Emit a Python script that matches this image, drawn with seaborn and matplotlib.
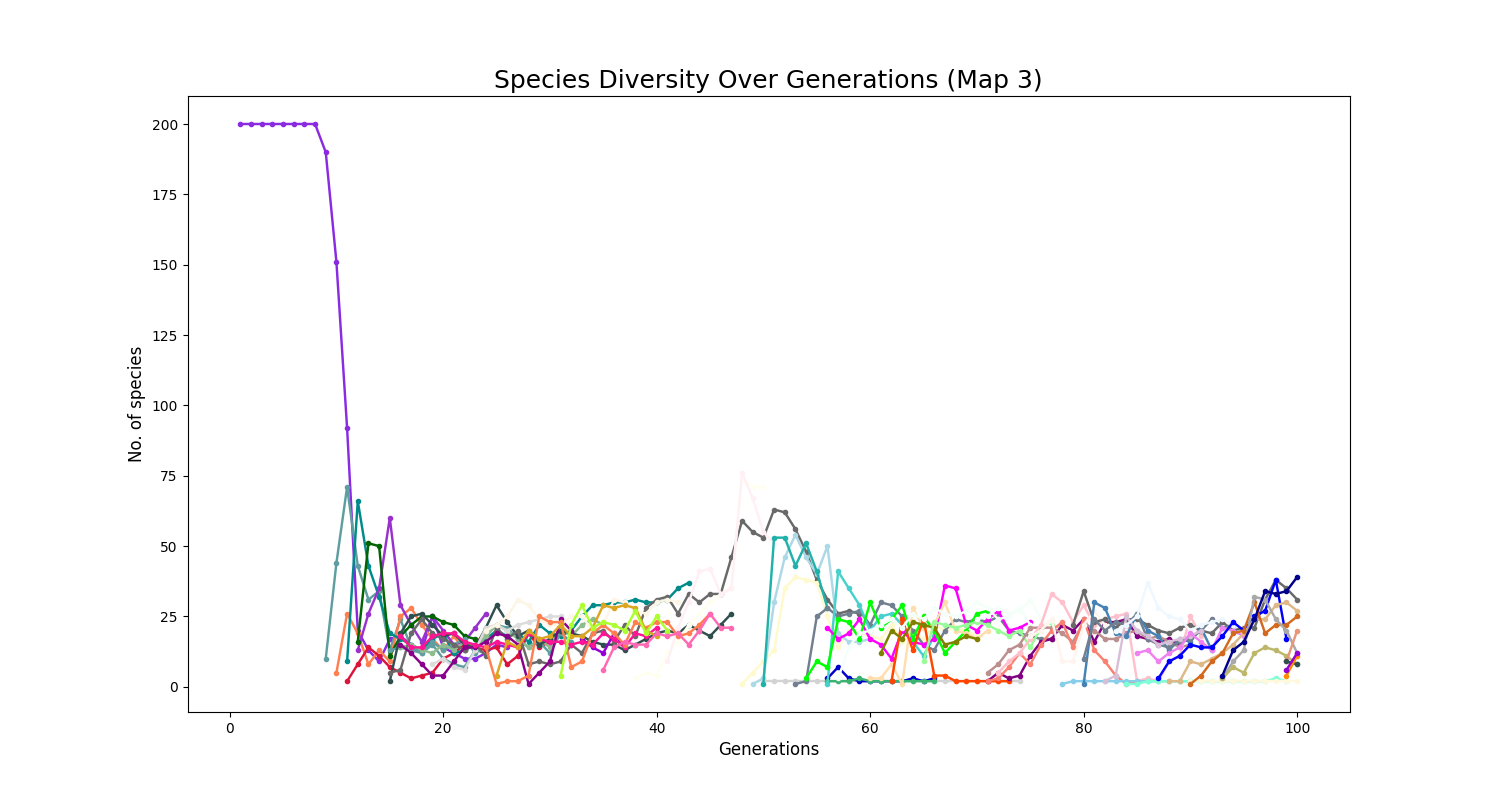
import matplotlib
matplotlib.use("Agg")
import matplotlib.pyplot as plt
import seaborn as sns
import pandas as pd

# (first generation, species counts per generation)
oldlace_a = (24, [20, 22, 25, 31, 29, 24, 22, 22, 25, 25, 20, 22, 31, 30, 27, 26, 30, 31, 30])
ivory_a = (38, [3, 5, 4, 12, 16, 22, 26, 30, 33, 35, 74, 71, 71])
lavenderblush_a = (41, [9, 21, 30, 41, 42, 33, 35, 76, 67, 55, 51])
mintcream_a = (57, [3, 14, 19, 20, 22, 24, 21, 26, 24, 28, 26, 25, 27, 30, 28, 24, 25, 28, 22])
honeydew_a = (70, [24, 25, 28, 26, 27, 31, 24, 21, 20])
seashell_a = (75, [18, 20, 24, 9, 9, 22, 27, 22, 20])
aliceblue_a = (83, [20, 22, 25, 37, 28, 25, 24, 20, 22, 23, 24, 22])

blueviolet = (1, [200, 200, 200, 200, 200, 200, 200, 200, 190, 151, 92, 20, 13, 9, 17, 18, 15, 13, 25, 14, 12, 10, 10, 12, 15, 14])
cadetblue = (9, [10, 44, 71, 43, 31, 34, 13, 24, 14, 12, 15, 10, 8, 7, 13, 12])
coral_a = (10, [5, 26, 19, 8, 13, 9, 25, 28, 22, 17, 13, 18, 13, 15, 20])
crimson = (11, [2, 8, 14, 11, 7, 5, 3, 4, 5, 10, 12, 15, 14, 13, 14, 8, 11, 19, 14, 16])
teal_a = (11, [9, 66, 43, 32, 19, 17, 15, 13, 17, 19, 12, 13, 15, 17, 20, 18, 19, 16, 22, 19, 18, 20, 25, 29, 29, 30, 30, 31, 30, 30, 31, 35, 37])
darkorchid = (12, [13, 26, 35, 60, 29, 22, 16, 25, 20, 15, 16, 21, 26])
darkgreen = (12, [16, 51, 50, 11, 18, 22, 25, 25, 23, 22, 18, 17])
seagreen_soft = (15, [13, 14, 13, 12, 16, 13, 15, 17, 12, 18, 22, 21, 17, 14, 16, 12, 19, 16])
darkseagreen = (16, [14, 15, 13, 12, 15, 13, 16, 14, 18, 22, 20, 17, 14, 17, 14, 21, 18, 22, 24, 22])
darkslategray_a = (15, [2, 19, 25, 26, 22, 18, 19, 15, 14, 21, 29, 23, 18, 20, 15, 17, 20, 19, 18, 16, 15, 15, 13, 15, 17, 19, 20, 19, 22, 20, 18, 22, 26])
dimgray_a = (15, [5, 6, 19, 24, 19, 17, 15, 13, 15, 11, 21, 17, 20, 8, 9, 8, 9, 15, 12, 19, 20, 16, 22, 18, 28, 31, 32, 26, 33, 30, 33, 33, 46, 59, 55, 53, 63, 62, 56, 48, 38, 31, 26, 27, 26])
gainsboro = (19, [8, 10, 7, 6, 13, 21, 22, 20, 22, 23, 24, 25, 25])
purple_a = (16, [15, 12, 8, 4, 4, 9, 14, 14, 16, 19, 18, 15, 1, 5, 9, 24, 20])
deeppink = (16, [18, 14, 14, 18, 19, 19, 16, 15, 14, 16, 15, 14, 19, 17, 16, 16, 15, 16, 15, 19, 17, 14, 19, 18, 21])
coral_b = (24, [14, 1, 2, 2, 4, 25, 23, 23, 7, 9, 19, 22, 19, 15, 23, 21, 23, 23, 18, 19, 22, 26])
goldenrod = (25, [4, 16, 14, 20, 17, 18, 22, 18, 18, 21, 29, 28, 29, 28, 20, 18])
greenyellow = (31, [4, 22, 29, 21, 23, 22, 20, 27, 19, 25, 20])
hotpink = (35, [6, 14, 16, 15, 15, 19, 18, 19, 15, 20, 26, 21, 21])
darkviolet_a = (33, [17, 14, 12, 19, 14])

lemonchiffon = (48, [1, 5, 9, 13, 35, 39, 38, 37, 25, 14, 20, 19, 18, 17, 22, 16, 19, 17, 22, 20, 21, 20, 18])
lightblue = (49, [1, 3, 30, 46, 54, 46, 40, 50, 19, 16, 16, 17])
lightgray = (50, [2, 2, 2, 2, 2, 2, 2, 2, 2, 2, 2, 2, 2, 2, 2, 2, 2, 2, 2, 2, 2, 2, 2, 2, 2])
lightseagreen = (50, [1, 53, 53, 43, 51, 41, 28])
slategray_a = (53, [1, 2, 25, 28, 25, 26, 27, 22, 30, 29, 25, 20, 15, 13, 20, 24, 23, 24, 23, 25, 20, 19, 18, 17, 17])
medblue = (56, [3, 7, 3, 2, 2, 2, 2, 2, 3, 2, 3])
mediumseagreen = (56, [2, 2, 2, 3, 2, 2, 2, 2, 2, 2, 2])
turquoise = (56, [1, 41, 35, 29, 20, 25, 26, 22, 16, 11, 18])
magenta = (56, [21, 17, 19, 24, 17, 15, 10, 20, 16, 15, 17, 36, 35, 22, 20, 24, 27, 20, 21, 23])
lime = (54, [3, 9, 7, 24, 23, 17, 30, 21, 24, 29, 17, 25, 20, 12, 16, 20, 26, 27])
navajowhite = (60, [3, 3, 8, 1, 28, 21, 22, 30, 20, 19, 17, 20])
orangered = (62, [2, 24, 13, 24, 4, 4, 2, 2, 2, 2, 2, 2])
olive = (61, [12, 20, 17, 23, 22, 21, 15, 16, 18, 17])
palegreen = (65, [9, 23, 22, 21, 22, 23, 22, 20, 18, 20, 14, 21, 22, 20])

purple_b = (71, [2, 5, 3, 4, 11, 16, 17, 22, 20, 24, 16, 23, 23, 24, 18, 17, 16, 17, 15])
rosybrown = (71, [5, 8, 13, 15, 21, 21, 21, 19, 16, 23, 20, 17, 17, 19, 20, 17, 18, 16, 14, 15])
salmon = (71, [2, 3, 7, 12, 8, 15, 20, 23, 14, 24, 13, 9, 4, 1, 2])
pink = (72, [5, 9, 12, 17, 22, 33, 30, 23, 29, 22, 24, 25, 26, 2, 3, 2, 9, 11, 25, 18])
skyblue = (78, [1, 2, 2, 2, 2, 2, 2, 2, 2, 2, 2, 2, 2])
dimgray_b = (79, [22, 34, 23, 24, 21, 24, 24, 22, 20, 19, 21, 22, 20, 19, 23, 20, 21, 21, 31, 38, 35, 31])
steelblue = (80, [1, 30, 28, 19, 18, 26, 20, 18, 13, 17, 16, 21, 13])
slategray_b = (80, [10, 24, 20, 23, 22, 26, 17, 15, 14, 16, 17, 20, 24, 21, 22])
thistle = (82, [2, 4, 25, 20, 18, 15, 16, 17, 18, 20])
aquamarine = (84, [1, 1, 2, 2, 2, 2, 2, 2, 2, 2, 2, 2, 2, 2, 3, 2])
cornsilk = (90, [2, 2, 2, 2, 2, 2, 2, 2, 2, 2, 2])
violet = (85, [12, 13, 9, 12, 14, 19, 16, 13, 21, 20, 18])
blue = (87, [3, 9, 11, 15, 14, 14, 18, 23, 20, 25, 27, 38, 17])
burlywood = (88, [2, 2, 9, 8, 10, 12, 15, 19, 24, 24, 29, 30, 27])
chocolate = (90, [1, 4, 9, 12, 19, 20, 30, 19, 22, 22, 25])
darkgray = (93, [3, 9, 13, 32, 31, 24, 20, 12])
darkkhaki = (93, [3, 7, 5, 12, 14, 13, 11, 8])
darkblue = (93, [4, 13, 16, 24, 34, 33, 34, 39])
darksalmon = (99, [9, 20])
darkslategray_b = (99, [9, 8])
orange = (99, [4, 11])
darkviolet_b = (99, [6, 12])

plot_order = [
    (blueviolet, "blueviolet"), (cadetblue, "cadetblue"), (coral_a, "coral"),
    (crimson, "crimson"), (teal_a, "darkcyan"), (darkorchid, "darkorchid"),
    (darkgreen, "darkgreen"), (seagreen_soft, "cadetblue"), (darkseagreen, "darkseagreen"),
    (darkslategray_a, "darkslategray"), (dimgray_a, "dimgray"), (gainsboro, "gainsboro"),
    (purple_a, "darkmagenta"), (darkviolet_a, "darkviolet"), (deeppink, "deeppink"),
    (oldlace_a, "oldlace"), (ivory_a, "ivory"), (lavenderblush_a, "lavenderblush"),
    (coral_b, "coral"), (goldenrod, "goldenrod"), (greenyellow, "greenyellow"),
    (hotpink, "hotpink"), (lemonchiffon, "lemonchiffon"), (lightblue, "lightblue"),
    (lightgray, "lightgray"), (lightseagreen, "lightseagreen"), (slategray_a, "slategray"),
    (medblue, "mediumblue"), (mediumseagreen, "mediumseagreen"),
    (turquoise, "mediumturquoise"), (magenta, "magenta"), (lime, "lime"),
    (navajowhite, "navajowhite"), (orangered, "orangered"), (olive, "olive"),
    (palegreen, "palegreen"), (mintcream_a, "mintcream"), (honeydew_a, "mintcream"),
    (purple_b, "purple"), (rosybrown, "rosybrown"), (salmon, "salmon"), (pink, "pink"),
    (seashell_a, "seashell"),
    (skyblue, "skyblue"), (dimgray_b, "dimgray"), (steelblue, "steelblue"),
    (slategray_b, "slategray"), (thistle, "thistle"), (aliceblue_a, "aliceblue"),
    (aquamarine, "aquamarine"), (violet, "violet"), (blue, "blue"),
    (burlywood, "burlywood"), (cornsilk, "cornsilk"), (chocolate, "chocolate"), (darkgray, "darkgray"),
    (darkkhaki, "darkkhaki"), (darkblue, "darkblue"), (darksalmon, "darksalmon"),
    (darkslategray_b, "darkslategray"), (orange, "darkorange"), (darkviolet_b, "darkviolet"),
]

fig, ax = plt.subplots(figsize=(15, 8), dpi=100)
for (start, values), color in plot_order:
    frame = pd.DataFrame({"gen": range(start, start + len(values)), "count": values})
    sns.lineplot(data=frame, x="gen", y="count", color=color, marker=".",
                 markersize=6, markeredgewidth=1, markeredgecolor=color,
                 linewidth=1.75, errorbar=None, ax=ax)

ax.set_xticks([0, 20, 40, 60, 80, 100])
ax.set_yticks([0, 25, 50, 75, 100, 125, 150, 175, 200])
ax.set_title("Species Diversity Over Generations (Map 3)", fontsize=18)
ax.set_xlabel("Generations", fontsize=12)
ax.set_ylabel("No. of species", fontsize=12)
fig.savefig("out.png", dpi=100)
